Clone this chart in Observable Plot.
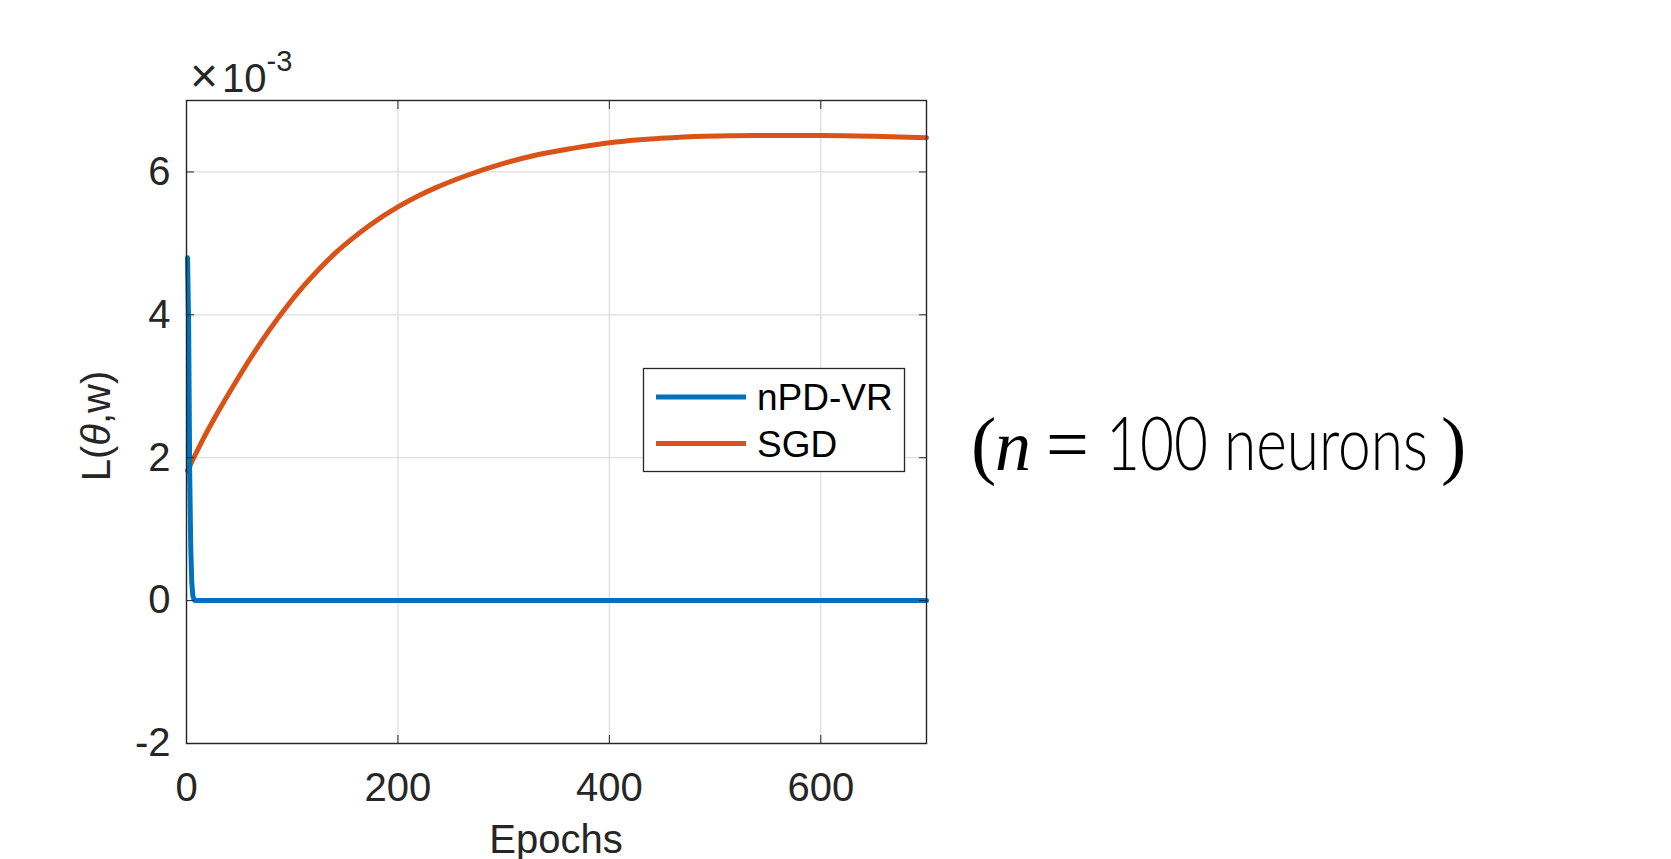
<!DOCTYPE html>
<html><head><meta charset="utf-8">
<script src="https://cdn.jsdelivr.net/npm/d3@7"></script>
<script src="https://cdn.jsdelivr.net/npm/@observablehq/plot@0.6"></script>
<style>body{margin:0;background:#fff;} #chart{position:relative;width:1671px;height:859px;}</style>
</head><body><div id="chart"></div>
<script>
// ---- data (loss values in units of 10^-3) ----
const seriesNames = ["nPD-VR", "SGD"];
const seriesColors = ["#0072BD", "#D95319"];
const npdEpochs = [1, 2, 3, 4, 5, 6, 7, 8, 700];
const npdLoss   = [4.8, 3.9, 1.8, 0.75, 0.25, 0.07, 0.02, 0, 0];
const sgdEpochs = [1, 15, 31, 47, 63, 79, 94, 110, 126, 142, 158, 173, 200, 220, 236, 265, 300, 329, 365, 400, 448, 490, 540, 600, 650, 700];
const sgdLoss   = [1.82, 2.24, 2.67, 3.07, 3.45, 3.80, 4.10, 4.39, 4.65, 4.88, 5.08, 5.25, 5.51, 5.67, 5.78, 5.95, 6.12, 6.23, 6.33, 6.41, 6.47, 6.50, 6.51, 6.51, 6.50, 6.48];
const xTicks = [0, 200, 400, 600];
const yTicks = [-2, 0, 2, 4, 6];
const xDomain = [0, 700];
const yDomain = [-2, 7];
const yExponent = "-3";
const xLabel = "Epochs";

const npd = npdEpochs.map((e, i) => ({epoch: e, loss: npdLoss[i], series: seriesNames[0]}));
const sgd = sgdEpochs.map((e, i) => ({epoch: e, loss: sgdLoss[i], series: seriesNames[1]}));

const font = "'Liberation Sans', Arial, Helvetica, sans-serif";
const ink = "#262626";
const fmt = d => String(d);
const plot = Plot.plot({
  width: 1671, height: 859,
  marginLeft: 186, marginRight: 745, marginTop: 100, marginBottom: 116,
  style: {fontFamily: font, fontSize: "40px", color: ink, background: "white", overflow: "visible"},
  x: {domain: xDomain, label: null},
  y: {domain: yDomain, label: null},
  color: {domain: seriesNames, range: seriesColors},
  marks: [
    Plot.gridX(xTicks, {stroke: "#dedede", strokeOpacity: 1, strokeWidth: 1.3}),
    Plot.gridY(yTicks, {stroke: "#dedede", strokeOpacity: 1, strokeWidth: 1.3}),
    Plot.line(sgd, {x: "epoch", y: "loss", stroke: "series", strokeWidth: 5, curve: "monotone-x"}),
    Plot.line(npd, {x: "epoch", y: "loss", stroke: "series", strokeWidth: 5}),
    Plot.frame({stroke: ink, strokeWidth: 1.4}),
    Plot.axisX(xTicks, {anchor: "bottom", tickSize: -8, tickPadding: 37, fontSize: 40, label: null, stroke: ink, tickFormat: fmt}),
    Plot.axisX(xTicks, {anchor: "top", tickSize: -8, text: null, label: null, stroke: ink}),
    Plot.axisY(yTicks, {anchor: "left", tickSize: -8, tickPadding: 24, fontSize: 40, label: null, stroke: ink, tickFormat: fmt}),
    Plot.axisY(yTicks, {anchor: "right", tickSize: -8, text: null, label: null, stroke: ink})
  ]
});
document.getElementById("chart").appendChild(plot);

const svg = d3.select(plot);
// exponent label
const ex = svg.append("text").attr("x", 190).attr("y", 92).attr("fill", ink).attr("text-anchor", "start")
  .style("font-family", font).style("font-size", "40px");
ex.append("tspan").style("font-size", "48px").text("\u00d7");
ex.append("tspan").attr("dx", 4).text("10");
ex.append("tspan").attr("dy", -21).style("font-size", "29px").text(yExponent);

// x label
svg.append("text").attr("x", 556).attr("y", 853).attr("text-anchor", "middle").attr("fill", ink)
  .style("font-family", font).style("font-size", "40px").text(xLabel);

// y label
const yl = svg.append("text").attr("transform", "translate(110,426) rotate(-90)")
  .attr("text-anchor", "middle").attr("fill", ink)
  .style("font-family", font).style("font-size", "40px");
yl.append("tspan").text("L(");
yl.append("tspan").style("font-style", "italic").text("\u03b8");
yl.append("tspan").text(",w)");

// legend
const lg = svg.append("g");
lg.append("rect").attr("x", 643.5).attr("y", 368.5).attr("width", 261).attr("height", 103)
  .attr("fill", "white").attr("stroke", ink).attr("stroke-width", 1.3);
seriesNames.forEach((name, i) => {
  const yy = 397 + i * 46.6;
  lg.append("line").attr("x1", 656).attr("x2", 746).attr("y1", yy).attr("y2", yy)
    .attr("stroke", seriesColors[i]).attr("stroke-width", 5);
  lg.append("text").attr("x", 757).attr("y", yy + 13.3).attr("fill", "#000").attr("text-anchor", "start")
    .style("font-family", font).style("font-size", "37px").text(name);
});

// annotation
const serif = "'Liberation Serif', 'DejaVu Serif', serif";
function ann(x, txt, opts = {}) {
  const t = svg.append("text").attr("x", x).attr("y", 470).attr("fill", "#000").attr("text-anchor", "start")
    .style("font-family", opts.fam || serif).style("font-size", (opts.size || 76) + "px").text(txt);
  if (opts.italic) t.style("font-style", "italic");
  return t;
}
ann(971, "(");
ann(995, "n", {italic: true, size: 72});
ann(1046, "=");
ann(1441, ")");
// "100 neurons": light sans, horizontally scaled to the reference's width
const word = svg.append("text").attr("x", 0).attr("y", 0).attr("fill", "#000").attr("text-anchor", "start")
  .style("font-family", "Lato, 'Open Sans', sans-serif").style("font-weight", 300).style("font-size", "74px")
  .text("100 neurons");
const w = word.node().getComputedTextLength() || 322;
word.attr("transform", `translate(1106,470) scale(${(322 / w).toFixed(4)},1)`);
</script>
</body></html>
